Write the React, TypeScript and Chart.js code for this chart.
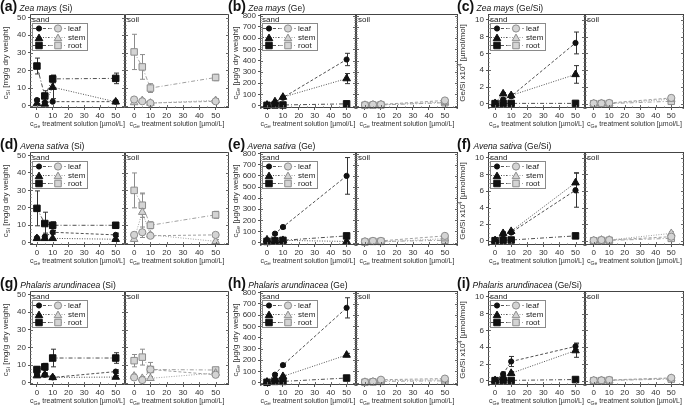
import React, { useEffect, useRef } from "react";
import { Chart, registerables } from "chart.js";

Chart.register(...registerables);

const FONT = "Arial, 'Liberation Sans', sans-serif";

// ---------- shared axes ----------
const X_VALUES = [0, 5, 10, 50];
const X_TICKS = [0, 10, 20, 30, 40, 50];
const Y_TICKS_SI = [0, 10, 20, 30, 40, 50];
const Y_TICKS_GE = [0, 100, 200, 300, 400, 500, 600, 700, 800];
const Y_TICKS_RATIO = [0, 2, 4, 6, 8, 10];
const ORGANS = ["leaf", "stem", "root"];
const MEDIA = ["sand", "soil"];

// ---------- (a) Zea mays (Si) ----------
const aSandLeaf = [3.2, 1.8, 2.3, 2.3], aSandLeafErr = [0.8, 0.5, 0.5, 0.5];
const aSandStem = [1.2, 1.0, 10.5, 2.2], aSandStemErr = [0.5, 0.5, 6.5, 0.5];
const aSandRoot = [22.5, 5.5, 15.2, 15.5], aSandRootErr = [4.5, 3.0, 2.2, 3.0];
const aSoilLeaf = [3.5, 2.5, 1.5, 2.5], aSoilLeafErr = [1.0, 1.0, 0.8, 1.0];
const aSoilStem = [1.8, 3.0, 1.5, 3.0], aSoilStemErr = [0.8, 1.0, 0.5, 1.0];
const aSoilRoot = [30.5, 22.0, 10.0, 16.0], aSoilRootErr = [10.0, 7.0, 2.5, 1.8];

// ---------- (b) Zea mays (Ge) ----------
const bSandLeaf = [5, 20, 70, 410], bSandLeafErr = [3, 8, 10, 55];
const bSandStem = [5, 35, 75, 240], bSandStemErr = [3, 10, 10, 45];
const bSandRoot = [2, 5, 5, 15], bSandRootErr = [1, 2, 2, 3];
const bSoilLeaf = [5, 8, 10, 45], bSoilLeafErr = [3, 4, 5, 15];
const bSoilStem = [3, 5, 8, 30], bSoilStemErr = [2, 3, 4, 10];
const bSoilRoot = [2, 3, 5, 25], bSoilRootErr = [1, 2, 3, 10];

// ---------- (c) Zea mays (Ge/Si) ----------
const cSandLeaf = [0.05, 0.5, 0.9, 7.25], cSandLeafErr = [0.05, 0.2, 0.2, 1.3];
const cSandStem = [0.05, 1.2, 1.0, 3.5], cSandStemErr = [0.05, 0.15, 0.2, 1.05];
const cSandRoot = [0.02, 0.05, 0.05, 0.05], cSandRootErr = [0.02, 0.02, 0.02, 0.02];
const cSoilLeaf = [0.05, 0.05, 0.1, 0.7], cSoilLeafErr = [0.05, 0.05, 0.1, 0.3];
const cSoilStem = [0.02, 0.05, 0.05, 0.55], cSoilStemErr = [0.02, 0.05, 0.05, 0.3];
const cSoilRoot = [0.01, 0.02, 0.02, 0.3], cSoilRootErr = [0.01, 0.02, 0.02, 0.2];

// ---------- (d) Avena sativa (Si) ----------
const dSandLeaf = [2.8, 3.5, 6.0, 4.5], dSandLeafErr = [0.5, 2.0, 1.0, 1.0];
const dSandStem = [2.5, 2.5, 2.5, 2.0], dSandStemErr = [0.5, 0.5, 0.5, 0.5];
const dSandRoot = [19.7, 11.0, 10.0, 10.0], dSandRootErr = [10.0, 6.5, 2.0, 1.5];
const dSoilLeaf = [4.5, 6.0, 4.0, 4.5], dSoilLeafErr = [1.0, 3.0, 1.0, 1.0];
const dSoilStem = [2.0, 17.5, 4.5, 0.8], dSoilStemErr = [1.0, 10.5, 1.0, 1.0];
const dSoilRoot = [30.0, 21.5, 10.0, 16.0], dSoilRootErr = [10.0, 7.0, 2.0, 2.0];

// ---------- (e) Avena sativa (Ge) ----------
const eSandLeaf = [10, 80, 140, 600], eSandLeafErr = [5, 10, 15, 165];
const eSandStem = [25, 15, 20, 10], eSandStemErr = [5, 5, 5, 5];
const eSandRoot = [10, 15, 20, 60], eSandRootErr = [5, 5, 5, 20];
const eSoilLeaf = [10, 15, 15, 60], eSoilLeafErr = [5, 5, 5, 15];
const eSoilStem = [5, 10, 5, 35], eSoilStemErr = [3, 5, 3, 10];
const eSoilRoot = [5, 10, 10, 20], eSoilRootErr = [3, 5, 5, 10];

// ---------- (f) Avena sativa (Ge/Si) ----------
const fSandLeaf = [0.05, 0.8, 1.0, 6.1], fSandLeafErr = [0.05, 0.2, 0.2, 2.05];
const fSandStem = [0.05, 0.9, 1.15, 7.0], fSandStemErr = [0.05, 0.2, 0.2, 1.2];
const fSandRoot = [0.02, 0.08, 0.1, 0.6], fSandRootErr = [0.02, 0.05, 0.05, 0.3];
const fSoilLeaf = [0.05, 0.1, 0.1, 0.5], fSoilLeafErr = [0.05, 0.1, 0.1, 0.2];
const fSoilStem = [0.02, 0.1, 0.1, 0.9], fSoilStemErr = [0.02, 0.1, 0.1, 0.2];
const fSoilRoot = [0.01, 0.05, 0.05, 0.3], fSoilRootErr = [0.01, 0.05, 0.05, 0.2];

// ---------- (g) Phalaris arundinacea (Si) ----------
const gSandLeaf = [5.0, 4.5, 3.0, 6.3], gSandLeafErr = [1.0, 1.0, 0.5, 1.0];
const gSandStem = [4.0, 4.5, 3.0, 3.2], gSandStemErr = [0.8, 1.0, 0.5, 0.8];
const gSandRoot = [7.5, 9.0, 14.0, 14.0], gSandRootErr = [1.5, 2.0, 5.0, 3.0];
const gSoilLeaf = [3.0, 1.5, 7.5, 4.5], gSoilLeafErr = [1.0, 1.0, 1.0, 1.0];
const gSoilStem = [3.8, 2.5, 2.5, 5.5], gSoilStemErr = [1.0, 1.0, 1.0, 1.0];
const gSoilRoot = [12.5, 14.5, 7.5, 7.2], gSoilRootErr = [3.5, 4.5, 4.0, 1.5];

// ---------- (h) Phalaris arundinacea (Ge) ----------
const hSandLeaf = [5, 70, 155, 665], hSandLeafErr = [3, 10, 10, 90];
const hSandStem = [5, 30, 55, 245], hSandStemErr = [3, 5, 10, 15];
const hSandRoot = [2, 10, 10, 40], hSandRootErr = [1, 3, 3, 5];
const hSoilLeaf = [5, 8, 25, 35], hSoilLeafErr = [3, 5, 10, 10];
const hSoilStem = [3, 5, 15, 25], hSoilStemErr = [2, 3, 5, 8];
const hSoilRoot = [2, 5, 10, 15], hSoilRootErr = [1, 3, 5, 5];

// ---------- (i) Phalaris arundinacea (Ge/Si) ----------
const iSandLeaf = [0.05, 0.8, 2.3, 4.1], iSandLeafErr = [0.05, 0.25, 0.6, 0.4];
const iSandStem = [0.05, 0.4, 0.9, 3.6], iSandStemErr = [0.05, 0.2, 0.2, 0.8];
const iSandRoot = [0.02, 0.05, 0.05, 0.15], iSandRootErr = [0.02, 0.02, 0.02, 0.05];
const iSoilLeaf = [0.05, 0.05, 0.1, 0.35], iSoilLeafErr = [0.05, 0.05, 0.1, 0.15];
const iSoilStem = [0.02, 0.05, 0.05, 0.3], iSoilStemErr = [0.02, 0.05, 0.05, 0.1];
const iSoilRoot = [0.01, 0.02, 0.05, 0.2], iSoilRootErr = [0.01, 0.02, 0.05, 0.1];

// ---------- layout ----------
const COL_START = [0, 230, 458];
const PLOT_LEFT = [30, 260, 488];
const DIVIDER = [125, 356, 585];
const PLOT_RIGHT = [229, 458, 684];
const PLOT_TOP = [14, 152, 291];
const PLOT_BOTTOM = [108, 245, 385];
const TITLE_TOP = [-2, 136, 275];
const TITLE_LEFT = [0, 228, 457];
const YTITLE_X = [6, 236, 463];
const X_AXIS_H = 14;
const PAD_TOP = 4;

type Kind = "Si" | "Ge" | "Ratio";
const Y_RANGE: Record<Kind, [number, number]> = {
  Si: [-1.3, 52],
  Ge: [-22, 815],
  Ratio: [-0.5, 10.7],
};
const Y_TICKS: Record<Kind, number[]> = { Si: Y_TICKS_SI, Ge: Y_TICKS_GE, Ratio: Y_TICKS_RATIO };
const Y_MINOR: Record<Kind, number> = { Si: 2, Ge: 20, Ratio: 0.5 };
const X_RANGE: Record<string, [number, number]> = { sand: [-4.4, 55.9], soil: [-5.6, 58.2] };

const STYLE: Record<string, any> = {
  sand: { line: "#505050", fill: "#111111", stroke: "#111111", err: "#333333" },
  soil: { line: "#a0a0a0", fill: "#d4d4d4", stroke: "#8c8c8c", err: "#8c8c8c" },
};
const DASH: Record<string, number[]> = { leaf: [3, 2], stem: [1, 1.5], root: [4, 2, 1, 2] };
const POINT: Record<string, string> = { leaf: "circle", stem: "triangle", root: "rect" };
const RADIUS: Record<string, Record<string, number>> = {
  sand: { leaf: 2.6, stem: 4.4, root: 4.6 },
  soil: { leaf: 3.6, stem: 4.4, root: 4.6 },
};

type Series = [number[], number[]];
type Panel = {
  tag: string;
  species: string;
  qty: string;
  kind: Kind;
  row: number;
  col: number;
  sand: Series[];
  soil: Series[];
};

const PANELS: Panel[] = [
  { tag: "a", species: "Zea mays", qty: "Si", kind: "Si", row: 0, col: 0,
    sand: [[aSandLeaf, aSandLeafErr], [aSandStem, aSandStemErr], [aSandRoot, aSandRootErr]],
    soil: [[aSoilLeaf, aSoilLeafErr], [aSoilStem, aSoilStemErr], [aSoilRoot, aSoilRootErr]] },
  { tag: "b", species: "Zea mays", qty: "Ge", kind: "Ge", row: 0, col: 1,
    sand: [[bSandLeaf, bSandLeafErr], [bSandStem, bSandStemErr], [bSandRoot, bSandRootErr]],
    soil: [[bSoilLeaf, bSoilLeafErr], [bSoilStem, bSoilStemErr], [bSoilRoot, bSoilRootErr]] },
  { tag: "c", species: "Zea mays", qty: "Ge/Si", kind: "Ratio", row: 0, col: 2,
    sand: [[cSandLeaf, cSandLeafErr], [cSandStem, cSandStemErr], [cSandRoot, cSandRootErr]],
    soil: [[cSoilLeaf, cSoilLeafErr], [cSoilStem, cSoilStemErr], [cSoilRoot, cSoilRootErr]] },
  { tag: "d", species: "Avena sativa", qty: "Si", kind: "Si", row: 1, col: 0,
    sand: [[dSandLeaf, dSandLeafErr], [dSandStem, dSandStemErr], [dSandRoot, dSandRootErr]],
    soil: [[dSoilLeaf, dSoilLeafErr], [dSoilStem, dSoilStemErr], [dSoilRoot, dSoilRootErr]] },
  { tag: "e", species: "Avena sativa", qty: "Ge", kind: "Ge", row: 1, col: 1,
    sand: [[eSandLeaf, eSandLeafErr], [eSandStem, eSandStemErr], [eSandRoot, eSandRootErr]],
    soil: [[eSoilLeaf, eSoilLeafErr], [eSoilStem, eSoilStemErr], [eSoilRoot, eSoilRootErr]] },
  { tag: "f", species: "Avena sativa", qty: "Ge/Si", kind: "Ratio", row: 1, col: 2,
    sand: [[fSandLeaf, fSandLeafErr], [fSandStem, fSandStemErr], [fSandRoot, fSandRootErr]],
    soil: [[fSoilLeaf, fSoilLeafErr], [fSoilStem, fSoilStemErr], [fSoilRoot, fSoilRootErr]] },
  { tag: "g", species: "Phalaris arundinacea", qty: "Si", kind: "Si", row: 2, col: 0,
    sand: [[gSandLeaf, gSandLeafErr], [gSandStem, gSandStemErr], [gSandRoot, gSandRootErr]],
    soil: [[gSoilLeaf, gSoilLeafErr], [gSoilStem, gSoilStemErr], [gSoilRoot, gSoilRootErr]] },
  { tag: "h", species: "Phalaris arundinacea", qty: "Ge", kind: "Ge", row: 2, col: 1,
    sand: [[hSandLeaf, hSandLeafErr], [hSandStem, hSandStemErr], [hSandRoot, hSandRootErr]],
    soil: [[hSoilLeaf, hSoilLeafErr], [hSoilStem, hSoilStemErr], [hSoilRoot, hSoilRootErr]] },
  { tag: "i", species: "Phalaris arundinacea", qty: "Ge/Si", kind: "Ratio", row: 2, col: 2,
    sand: [[iSandLeaf, iSandLeafErr], [iSandStem, iSandStemErr], [iSandRoot, iSandRootErr]],
    soil: [[iSoilLeaf, iSoilLeafErr], [iSoilStem, iSoilStemErr], [iSoilRoot, iSoilRootErr]] },
];

// ---------- drawing helpers ----------
function drawMarker(ctx: CanvasRenderingContext2D, style: string, x: number, y: number, r: number, fill: string, stroke: string) {
  ctx.beginPath();
  if (style === "circle") {
    ctx.arc(x, y, r, 0, Math.PI * 2);
  } else if (style === "triangle") {
    const c = Math.cos(Math.PI / 6) * r;
    ctx.moveTo(x, y - r);
    ctx.lineTo(x + c, y + r / 2);
    ctx.lineTo(x - c, y + r / 2);
    ctx.closePath();
  } else {
    const s = r * Math.SQRT1_2;
    ctx.rect(x - s, y - s, 2 * s, 2 * s);
  }
  ctx.setLineDash([]);
  ctx.fillStyle = fill;
  ctx.fill();
  ctx.strokeStyle = stroke;
  ctx.lineWidth = 1;
  ctx.stroke();
}

const errorBarPlugin = {
  id: "errorBars",
  beforeDatasetsDraw(chart: any) {
    const { ctx } = chart;
    const xs = chart.scales.x;
    const ys = chart.scales.y;
    ctx.save();
    chart.data.datasets.forEach((ds: any) => {
      const errs: number[] = ds.errors;
      if (!errs) return;
      ctx.strokeStyle = ds.errColor;
      ctx.lineWidth = 1;
      ctx.setLineDash([]);
      ds.data.forEach((p: any, i: number) => {
        const e = errs[i];
        if (!e) return;
        const px = Math.round(xs.getPixelForValue(p.x)) + 0.5;
        const y1 = ys.getPixelForValue(p.y + e);
        const y2 = ys.getPixelForValue(p.y - e);
        if (Math.abs(y2 - y1) < 2) return;
        ctx.beginPath();
        ctx.moveTo(px, y1);
        ctx.lineTo(px, y2);
        ctx.moveTo(px - 2.5, y1);
        ctx.lineTo(px + 2.5, y1);
        ctx.moveTo(px - 2.5, y2);
        ctx.lineTo(px + 2.5, y2);
        ctx.stroke();
      });
    });
    ctx.restore();
  },
};

const framePlugin = {
  id: "frame",
  afterDraw(chart: any, _args: any, opts: any) {
    const { ctx, chartArea: a } = chart;
    const xs = chart.scales.x;
    const ys = chart.scales.y;
    const medium: string = opts.medium;
    const kind: Kind = opts.kind;
    ctx.save();
    ctx.setLineDash([]);
    ctx.strokeStyle = "#444444";
    ctx.lineWidth = 1;
    ctx.strokeRect(a.left + 0.5, a.top + 0.5, a.right - a.left - 1, a.bottom - a.top - 1);

    // minor/major ticks on vertical borders (inward)
    const [ymin, ymax] = Y_RANGE[kind];
    const step = Y_MINOR[kind];
    const major = Y_TICKS[kind];
    const majorStep = major[1] - major[0];
    ctx.strokeStyle = "#666666";
    ctx.beginPath();
    for (let v = Math.ceil(ymin / step) * step; v <= ymax + 1e-9; v += step) {
      const py = Math.round(ys.getPixelForValue(v)) + 0.5;
      const isMajor = Math.abs(v / majorStep - Math.round(v / majorStep)) < 1e-6;
      const len = isMajor ? 3 : 1.5;
      ctx.moveTo(a.left, py);
      ctx.lineTo(a.left + len, py);
      ctx.moveTo(a.right, py);
      ctx.lineTo(a.right - len, py);
    }
    // x ticks on bottom border (inward)
    for (let v = 0; v <= 55; v += 5) {
      const px = Math.round(xs.getPixelForValue(v)) + 0.5;
      if (px <= a.left || px >= a.right) continue;
      const len = v % 10 === 0 ? 3 : 1.5;
      ctx.moveTo(px, a.bottom);
      ctx.lineTo(px, a.bottom - len);
    }
    ctx.stroke();

    // medium label
    ctx.fillStyle = "#222222";
    ctx.font = `8px ${FONT}`;
    ctx.textBaseline = "middle";
    ctx.textAlign = "left";
    ctx.fillText(medium, a.left + 2, a.top + 5.5);

    // custom legend
    if (opts.legend) {
      const bx = a.left + 2;
      const by = a.top + 9;
      ctx.fillStyle = "#ffffff";
      ctx.fillRect(bx, by, 56, 28);
      ctx.strokeStyle = "#8a8a8a";
      ctx.strokeRect(bx + 0.5, by + 0.5, 55, 27);
      ORGANS.forEach((organ, k) => {
        const ry = Math.round(a.top + 14.3 + k * 8.4) + 0.5;
        ctx.lineWidth = 1;
        ctx.setLineDash(DASH[organ]);
        ctx.strokeStyle = STYLE.sand.line;
        ctx.beginPath();
        ctx.moveTo(a.left + 3, ry);
        ctx.lineTo(a.left + 19, ry);
        ctx.stroke();
        ctx.strokeStyle = STYLE.soil.line;
        ctx.beginPath();
        ctx.moveTo(a.left + 19, ry);
        ctx.lineTo(a.left + 36, ry);
        ctx.stroke();
        const off = organ === "stem" ? 1 : 0;
        drawMarker(ctx, POINT[organ], a.left + 9, ry + off, RADIUS.sand[organ], STYLE.sand.fill, STYLE.sand.stroke);
        drawMarker(ctx, POINT[organ], a.left + 28, ry + off, RADIUS.soil[organ], STYLE.soil.fill, STYLE.soil.stroke);
        ctx.fillStyle = "#222222";
        ctx.font = `8px ${FONT}`;
        ctx.textBaseline = "middle";
        ctx.fillText(organ, a.left + 38, ry);
      });
    }
    ctx.restore();
  },
};

function SubPlot({ panel, medium }: { panel: Panel; medium: string }) {
  const ref = useRef<HTMLCanvasElement>(null);
  const { row, col, kind } = panel;
  const isSand = medium === "sand";
  const left = isSand ? COL_START[col] : DIVIDER[col];
  const right = isSand ? DIVIDER[col] : PLOT_RIGHT[col] + 1;
  const width = right - left;
  const top = PLOT_TOP[row] - PAD_TOP;
  const height = PLOT_BOTTOM[row] - PLOT_TOP[row] + PAD_TOP + X_AXIS_H;
  const yAxisW = isSand ? PLOT_LEFT[col] - COL_START[col] : 0;

  useEffect(() => {
    const series: Series[] = isSand ? panel.sand : panel.soil;
    const st = STYLE[medium];
    const datasets = series.map(([vals, errs], k) => {
      const organ = ORGANS[k];
      return {
        label: `${organ} (${medium})`,
        data: X_VALUES.map((x, i) => ({ x, y: vals[i] })),
        errors: errs,
        errColor: st.err,
        showLine: true,
        borderColor: st.line,
        borderWidth: 1,
        borderDash: DASH[organ],
        pointStyle: POINT[organ],
        pointRadius: RADIUS[medium][organ],
        pointBackgroundColor: st.fill,
        pointBorderColor: st.stroke,
        pointBorderWidth: 1,
        clip: false,
      };
    });
    const [ymin, ymax] = Y_RANGE[kind];
    const [xmin, xmax] = X_RANGE[medium];
    const chart = new Chart(ref.current as HTMLCanvasElement, {
      type: "scatter",
      data: { datasets } as any,
      plugins: [errorBarPlugin, framePlugin],
      options: {
        responsive: false,
        animation: false,
        devicePixelRatio: 1,
        layout: { autoPadding: false, padding: { top: PAD_TOP, left: 0, right: isSand ? 0 : 1, bottom: 0 } },
        plugins: {
          legend: { display: false },
          tooltip: { enabled: false },
          frame: { medium, kind, legend: isSand },
        } as any,
        scales: {
          x: {
            type: "linear",
            min: xmin,
            max: xmax,
            afterBuildTicks: (s: any) => {
              s.ticks = X_TICKS.map((v) => ({ value: v }));
            },
            afterFit: (s: any) => {
              s.height = X_AXIS_H;
              s.paddingLeft = 0;
              s.paddingRight = 0;
            },
            grid: { drawOnChartArea: false, drawTicks: true, tickLength: 2, color: "#555555" },
            border: { display: false },
            ticks: {
              font: { family: FONT, size: 8 },
              color: "#333333",
              padding: 1,
              maxRotation: 0,
              autoSkip: false,
            },
          },
          y: {
            type: "linear",
            display: isSand,
            min: ymin,
            max: ymax,
            afterBuildTicks: (s: any) => {
              s.ticks = Y_TICKS[kind].map((v) => ({ value: v }));
            },
            afterFit: (s: any) => {
              s.width = yAxisW;
              s.paddingTop = 0;
              s.paddingBottom = 0;
            },
            grid: { drawOnChartArea: false, drawTicks: true, tickLength: 2, color: "#555555" },
            border: { display: false },
            ticks: {
              font: { family: FONT, size: 8 },
              color: "#333333",
              padding: 2,
              autoSkip: false,
            },
          },
        },
      } as any,
    });
    return () => chart.destroy();
  }, []);

  return (
    <canvas
      ref={ref}
      width={width}
      height={height}
      style={{ position: "absolute", left, top, width, height }}
    />
  );
}

const subStyle: React.CSSProperties = { fontSize: "0.72em", verticalAlign: "-0.3em", lineHeight: 0 };
const supStyle: React.CSSProperties = { fontSize: "0.7em", verticalAlign: "0.45em", lineHeight: 0 };

function YTitle({ kind }: { kind: Kind }) {
  if (kind === "Si")
    return (<span>c<span style={subStyle}>Si</span> [mg/g dry weight]</span>);
  if (kind === "Ge")
    return (<span>c<span style={subStyle}>Ge</span> [µg/g dry weight]</span>);
  return (<span>Ge/Si x10<span style={supStyle}>4</span> [µmol/mol]</span>);
}

function XTitle() {
  return (<span>c<span style={subStyle}>Ge</span> treatment solution [µmol/L]</span>);
}

function PanelView({ panel }: { panel: Panel }) {
  const { row, col, kind } = panel;
  const midY = (PLOT_TOP[row] + PLOT_BOTTOM[row]) / 2 + 2;
  const xTitleY = PLOT_BOTTOM[row] + 16;
  const sandMid = (PLOT_LEFT[col] + DIVIDER[col]) / 2;
  const soilMid = (DIVIDER[col] + PLOT_RIGHT[col]) / 2;
  const textBase: React.CSSProperties = {
    position: "absolute",
    whiteSpace: "nowrap",
    fontSize: 8,
    lineHeight: "10px",
    color: "#333333",
  };
  return (
    <>
      {MEDIA.map((m) => (
        <SubPlot key={m} panel={panel} medium={m} />
      ))}
      <div
        style={{
          position: "absolute",
          left: TITLE_LEFT[col],
          top: TITLE_TOP[row],
          whiteSpace: "nowrap",
          lineHeight: "15px",
          color: "#111111",
        }}
      >
        <span style={{ fontWeight: "bold", fontSize: 14 }}>({panel.tag})</span>
        <span style={{ fontSize: 8.5 }}>
          {" "}
          <i>{panel.species}</i> ({panel.qty})
        </span>
      </div>
      <div
        style={{
          ...textBase,
          left: YTITLE_X[col],
          top: midY,
          transform: "translate(-50%, -50%) rotate(-90deg)",
        }}
      >
        <YTitle kind={kind} />
      </div>
      {[sandMid, soilMid].map((cx, k) => (
        <div
          key={k}
          style={{ ...textBase, fontSize: 7, left: cx, top: xTitleY, transform: "translate(-50%, -50%)" }}
        >
          <XTitle />
        </div>
      ))}
    </>
  );
}

export default function App() {
  return (
    <div
      style={{
        position: "fixed",
        left: 0,
        top: 0,
        width: 685,
        height: 406,
        background: "#ffffff",
        overflow: "hidden",
        fontFamily: FONT,
      }}
    >
      {PANELS.map((p) => (
        <PanelView key={p.tag} panel={p} />
      ))}
    </div>
  );
}
